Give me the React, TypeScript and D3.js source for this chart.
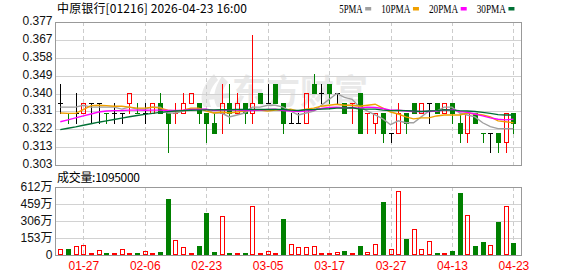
import React from "react";
import * as d3 from "d3";

const dates = ["01-22","01-23","01-26","01-27","01-28","01-29","01-30","02-02","02-03","02-04","02-05","02-06","02-09","02-10","02-11","02-12","02-13","02-16","02-20","02-23","02-24","02-25","02-26","02-27","03-02","03-03","03-04","03-05","03-06","03-09","03-10","03-11","03-12","03-13","03-16","03-17","03-18","03-19","03-20","03-23","03-24","03-25","03-26","03-27","03-30","03-31","04-01","04-02","04-08","04-09","04-10","04-13","04-14","04-15","04-16","04-17","04-20","04-21","04-22","04-23"];
const xLabels = ["01-27","02-06","02-23","03-05","03-17","03-27","04-13","04-23"];

const prevClose = 0.335;
const opens = [0.335,0.330,0.330,0.330,0.335,0.335,0.330,0.330,0.330,0.335,0.330,0.330,0.330,0.335,0.330,0.330,0.330,0.335,0.335,0.330,0.325,0.330,0.335,0.330,0.335,0.330,0.340,0.335,0.345,0.335,0.325,0.325,0.325,0.345,0.340,0.345,0.340,0.335,0.335,0.340,0.330,0.325,0.330,0.320,0.320,0.330,0.335,0.330,0.335,0.335,0.330,0.335,0.325,0.320,0.330,0.320,0.320,0.320,0.315,0.330];
const highs = [0.345,0.330,0.340,0.335,0.335,0.335,0.330,0.335,0.330,0.340,0.335,0.335,0.335,0.340,0.330,0.335,0.340,0.340,0.335,0.330,0.330,0.345,0.345,0.340,0.335,0.370,0.340,0.345,0.345,0.335,0.330,0.330,0.340,0.350,0.345,0.345,0.340,0.335,0.335,0.340,0.330,0.330,0.330,0.320,0.335,0.330,0.335,0.335,0.335,0.335,0.335,0.335,0.330,0.330,0.330,0.320,0.320,0.320,0.330,0.330];
const lows = [0.330,0.325,0.325,0.330,0.325,0.325,0.325,0.325,0.325,0.330,0.330,0.325,0.330,0.330,0.310,0.325,0.330,0.335,0.325,0.315,0.320,0.320,0.325,0.330,0.325,0.325,0.335,0.335,0.335,0.320,0.325,0.325,0.325,0.340,0.335,0.335,0.335,0.330,0.325,0.320,0.320,0.320,0.315,0.315,0.320,0.320,0.330,0.330,0.325,0.330,0.330,0.325,0.315,0.315,0.325,0.315,0.310,0.310,0.310,0.320];
const closes = [0.335,0.330,0.330,0.335,0.335,0.335,0.330,0.330,0.330,0.340,0.330,0.330,0.335,0.330,0.325,0.330,0.335,0.340,0.330,0.325,0.320,0.335,0.330,0.335,0.330,0.335,0.335,0.335,0.335,0.325,0.325,0.325,0.340,0.340,0.340,0.340,0.340,0.330,0.335,0.320,0.330,0.330,0.320,0.320,0.330,0.325,0.330,0.335,0.335,0.330,0.335,0.330,0.320,0.330,0.325,0.320,0.320,0.315,0.330,0.325];
// volume in 万 shares
const volumes = [57,51,78,93,18,42,9,9,51,9,18,36,18,30,502,134,69,9,81,376,27,347,18,9,9,439,9,33,9,323,99,72,72,81,9,18,27,36,18,81,27,99,475,54,573,143,233,54,125,9,18,39,555,358,81,116,90,296,439,109.5];

const ma5 = [0.333,0.333,0.333,0.334,0.333,0.333,0.333,0.333,0.332,0.333,0.332,0.332,0.333,0.333,0.330,0.330,0.331,0.332,0.332,0.332,0.330,0.330,0.328,0.329,0.330,0.333,0.333,0.334,0.334,0.333,0.331,0.329,0.330,0.331,0.334,0.337,0.340,0.338,0.337,0.333,0.331,0.329,0.327,0.324,0.326,0.325,0.325,0.328,0.331,0.331,0.333,0.333,0.330,0.329,0.328,0.325,0.323,0.322,0.322,0.322];
const ma10 = [0.3300,0.3298,0.3298,0.3318,0.3338,0.3340,0.3338,0.3335,0.3335,0.3330,0.3325,0.3325,0.3330,0.3325,0.3315,0.3310,0.3315,0.3325,0.3325,0.3310,0.3300,0.3305,0.3300,0.3305,0.3310,0.3315,0.3315,0.3310,0.3315,0.3315,0.3320,0.3310,0.3320,0.3325,0.3335,0.3340,0.3345,0.3340,0.3340,0.3335,0.3340,0.3345,0.3325,0.3305,0.3295,0.3280,0.3270,0.3275,0.3275,0.3285,0.3290,0.3290,0.3290,0.3300,0.3295,0.3290,0.3280,0.3260,0.3255,0.3250];
const ma20 = [0.3255,0.3265,0.3275,0.3285,0.3295,0.3305,0.3310,0.3312,0.3313,0.3315,0.3315,0.3314,0.3315,0.3315,0.3313,0.3313,0.3315,0.3318,0.3318,0.3320,0.3313,0.3315,0.3315,0.3315,0.3313,0.3313,0.3315,0.3318,0.3320,0.3313,0.3310,0.3308,0.3310,0.3315,0.3323,0.3328,0.3330,0.3325,0.3328,0.3325,0.3330,0.3328,0.3323,0.3315,0.3315,0.3310,0.3308,0.3308,0.3308,0.3310,0.3315,0.3318,0.3308,0.3303,0.3295,0.3285,0.3275,0.3268,0.3265,0.3268];
const ma30 = [0.3215,0.3222,0.3229,0.3237,0.3245,0.3253,0.3260,0.3267,0.3274,0.3281,0.3287,0.3293,0.3298,0.3303,0.3307,0.3310,0.3312,0.3314,0.3315,0.3316,0.3316,0.3317,0.3317,0.3318,0.3318,0.3318,0.3318,0.3318,0.3318,0.3318,0.3315,0.3313,0.3317,0.3318,0.3320,0.3322,0.3325,0.3325,0.3327,0.3320,0.3320,0.3320,0.3315,0.3312,0.3313,0.3312,0.3310,0.3308,0.3310,0.3312,0.3317,0.3315,0.3312,0.3310,0.3308,0.3303,0.3298,0.3292,0.3290,0.3290];

const maNames = ["5PMA","10PMA","20PMA","30PMA"];
const maColors = ["#a0a0a0","#f0a000","#ff00ff","#007035"];
const yTickLabels = ["0.303","0.313","0.322","0.331","0.340","0.349","0.358","0.367","0.377"];
const volTickLabels = ["0","153万","306万","459万","612万"];
const volTickValues = [0,153,306,459,612];

const W = 578, H = 276;
const L = 55, R = 522;
const mainTop = 22, mainBot = 165;
const volTop = 187, volBot = 255;
const yLo = 0.30336, yHi = 0.37664;

const RED = "#ff0000", GREEN = "#008000", BLACK = "#000000";

export default function App() {
  const x = d3.scalePoint<string>().domain(dates).range([60.3, 513.4]);
  const y = d3.scaleLinear().domain([yLo, yHi]).range([mainBot, mainTop]);
  const yv = d3.scaleLinear().domain([0, 612]).range([volBot, volTop]);
  const k = (v: number) => Math.round(v * 1000);

  const dir = (i: number) => {
    const o = k(opens[i]), c = k(closes[i]);
    if (c > o) return 1;
    if (c < o) return -1;
    const pc = k(i ? closes[i - 1] : prevClose);
    return c > pc ? 1 : c < pc ? -1 : 0;
  };
  const volUp = (i: number) => k(closes[i]) >= k(i ? closes[i - 1] : prevClose);

  const mas = [ma5, ma10, ma20, ma30];
  const line = d3.line<number>().x((_, i) => x(dates[i]) as number).y((v) => y(v));

  const yTickVals = yTickLabels.map((_, j) => yLo + (j * (yHi - yLo)) / 8);

  // legend layout
  let cursor = 339.3;
  const legend = maNames.map((n, j) => {
    const tw = n.length * 5.85;
    const item = { n, color: maColors[j], tx: cursor, tw, sx: cursor + tw + 2.5 };
    cursor = cursor + tw + 2.5 + 6 + 10;
    return item;
  });

  return (
    <svg width={W} height={H} style={{ position: "absolute", left: 0, top: 0, background: "#fff" }}
      fontFamily="'Liberation Sans', Arial, sans-serif">
      <rect x={0} y={0} width={W} height={H} fill="#fff" />
      {/* title */}
      <text x={57} y={13} fontSize={12} fontFamily="'Noto Sans CJK SC', sans-serif" textLength={190} lengthAdjust="spacing" fill="#000">中原银行[01216] 2026-04-23 16:00</text>
      {/* legend */}
      {legend.map((it) => (
        <g key={it.n}>
          <text x={it.tx} y={12.5} fontSize={12} fontFamily="'Liberation Serif', serif" textLength={it.tw} lengthAdjust="spacingAndGlyphs" fill="#000">{it.n}</text>
          <rect x={it.sx} y={7} width={6} height={3.5} fill={it.color} />
        </g>
      ))}

      {/* watermark */}
      <g fill="#e9e9e9">
        <path d="M214 74 C204 84,198 96,204 107 L211 107 C207 97,210 88,218 80 Z" />
        <path d="M222 76 C214 88,212 99,217 107 L224 107 C220 98,222 89,228 82 Z" />
        <path d="M205 95 L230 93 L229 98 L206 100 Z" />
        <text x={232} y={104} fontSize={34} fontWeight="bold" fontFamily="'Noto Sans CJK SC', sans-serif">东方财富</text>
      </g>

      {/* main grid */}
      {yTickVals.slice(1, -1).map((v, j) => (
        <line key={"hg" + j} x1={L} x2={R} y1={Math.round(y(v)) + 0.5} y2={Math.round(y(v)) + 0.5} stroke="#d2d2d2" />
      ))}
      {volTickValues.slice(1, -1).map((v, j) => (
        <line key={"vg" + j} x1={L} x2={R} y1={Math.round(yv(v)) + 0.5} y2={Math.round(yv(v)) + 0.5} stroke="#d2d2d2" />
      ))}
      {xLabels.map((d) => {
        const xx = Math.round(x(d) as number) + 0.5;
        return (
          <g key={"vd" + d}>
            <line x1={xx} x2={xx} y1={mainTop} y2={mainBot} stroke="#cccccc" strokeDasharray="4,3" />
            <line x1={xx} x2={xx} y1={volTop} y2={volBot} stroke="#cccccc" strokeDasharray="4,3" />
          </g>
        );
      })}

      {/* candles */}
      {dates.map((d, i) => {
        const cx = Math.round(x(d) as number);
        const dd = dir(i);
        const col = dd > 0 ? RED : dd < 0 ? GREEN : BLACK;
        const yo = Math.round(y(opens[i])), yc = Math.round(y(closes[i]));
        const yh = Math.round(y(highs[i])), yl = Math.round(y(lows[i]));
        const top = Math.min(yo, yc), bot = Math.max(yo, yc);
        const els: any[] = [];
        if (top === bot) {
          els.push(<line key="w" x1={cx + 0.5} x2={cx + 0.5} y1={yh} y2={yl + 1} stroke={col} />);
          els.push(<line key="b" x1={cx - 2} x2={cx + 3} y1={top + 0.5} y2={top + 0.5} stroke={col} />);
        } else if (k(closes[i]) > k(opens[i])) {
          if (yh < top) els.push(<line key="wu" x1={cx + 0.5} x2={cx + 0.5} y1={yh} y2={top} stroke={col} />);
          if (yl > bot) els.push(<line key="wd" x1={cx + 0.5} x2={cx + 0.5} y1={bot + 1} y2={yl + 1} stroke={col} />);
          els.push(<rect key="b" x={cx - 1.5} y={top + 0.5} width={4} height={bot - top} fill="none" stroke={col} />);
        } else {
          els.push(<line key="w" x1={cx + 0.5} x2={cx + 0.5} y1={yh} y2={yl + 1} stroke={col} />);
          els.push(<rect key="b" x={cx - 2} y={top} width={5} height={bot - top + 1} fill={col} />);
        }
        return <g key={"c" + i}>{els}</g>;
      })}

      {/* moving averages */}
      {mas.map((m, j) => (
        <path key={"ma" + j} d={line(m) || ""} fill="none" stroke={maColors[j]} strokeWidth={1.4} />
      ))}

      {/* volume bars */}
      {dates.map((d, i) => {
        const cx = Math.round(x(d) as number);
        const top = Math.round(yv(volumes[i]));
        const hgt = volBot - top;
        if (volUp(i)) {
          if (hgt <= 2) return <rect key={"v" + i} x={cx - 2} y={volBot - 2} width={5} height={2} fill={RED} />;
          return <rect key={"v" + i} x={cx - 1.5} y={top + 0.5} width={4} height={hgt - 1} fill="none" stroke={RED} />;
        }
        return <rect key={"v" + i} x={cx - 2} y={Math.min(top, volBot - 2)} width={5} height={Math.max(hgt, 2)} fill={GREEN} />;
      })}

      {/* frames */}
      <rect x={L + 0.5} y={mainTop + 0.5} width={R - L - 1} height={mainBot - mainTop} fill="none" stroke="#999999" />
      <rect x={L + 0.5} y={volTop + 0.5} width={R - L - 1} height={volBot - volTop} fill="none" stroke="#999999" />

      {/* y labels */}
      {yTickVals.map((v, j) => (
        <text key={"yl" + j} x={52.5} y={y(v) + 3} fontSize={12} textAnchor="end" fill="#111">{yTickLabels[j]}</text>
      ))}
      {volTickValues.map((v, j) => (
        <text key={"vl" + j} x={52.5} y={yv(v) + 4} fontSize={12} textAnchor="end" fill="#111"
          fontFamily="'Liberation Sans', 'Noto Sans CJK SC', sans-serif">{volTickLabels[j]}</text>
      ))}
      <text x={57} y={181.5} fontSize={12} fontFamily="'Noto Sans CJK SC', sans-serif" textLength={83} lengthAdjust="spacing" fill="#000">成交量:1095000</text>

      {/* x labels */}
      {xLabels.map((d) => (
        <text key={"xl" + d} x={(x(d) as number) + 0.5} y={270} fontSize={12} textAnchor="middle" fill={RED}>{d}</text>
      ))}
    </svg>
  );
}
